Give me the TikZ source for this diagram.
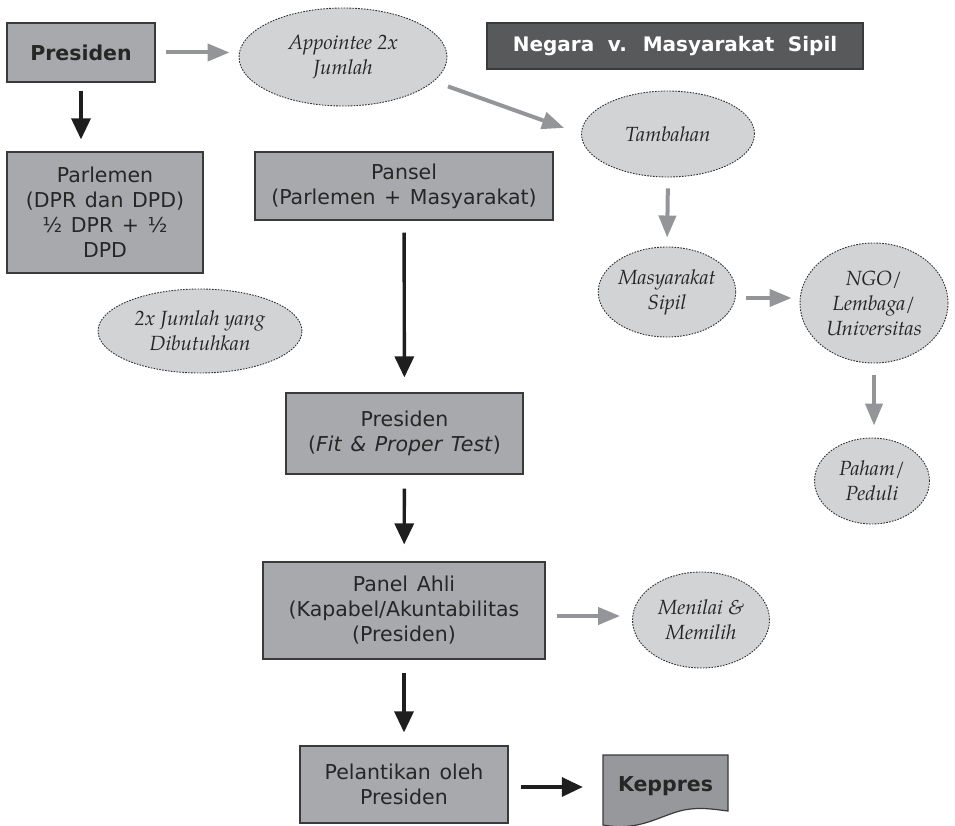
\documentclass[tikz,border=0pt]{standalone}
\usepackage{fontspec}
\setmainfont{DejaVu Sans}
\newfontfamily\bubblefam{TeX Gyre Pagella}
\usetikzlibrary{shapes.geometric,arrows.meta}

\definecolor{boxfill}{HTML}{A7A9AC}
\definecolor{boxline}{HTML}{3A3A3C}
\definecolor{bubblefill}{HTML}{D1D3D4}
\definecolor{bubbleline}{HTML}{2E2E30}
\definecolor{titlefill}{HTML}{58595B}
\definecolor{docfill}{HTML}{96989B}
\definecolor{arrowgray}{HTML}{939598}
\definecolor{arrowblack}{HTML}{1E1E1E}

\newcommand\boxfont{\fontsize{20.5}{25}\selectfont\spaceskip=0.42em plus 0.1em\relax}
\newcommand\titlefont{\fontsize{20}{24}\selectfont\bfseries\spaceskip=0.68em\relax}
\newcommand\bubblefont{\bubblefam\itshape\fontsize{20.5}{25}\selectfont}

\tikzset{
  box/.style={draw=boxline, fill=boxfill, line width=1.2pt, inner sep=0pt,
    align=center, font=\boxfont, text=black!85},
  bubble/.style={ellipse, draw=bubbleline, fill=bubblefill, line width=0.9pt,
    dash pattern=on 1.6pt off 1.3pt, inner sep=0pt, align=center,
    font=\bubblefont, text=black!85},
  blackarrow/.style={draw=arrowblack, line width=3.4pt,
    -{Triangle[length=21pt,width=19pt]}},
  grayarrow/.style={draw=arrowgray, line width=4pt,
    -{Triangle[length=22pt,width=17pt]}},
}

\begin{document}
\begin{tikzpicture}[x=1pt,y=-1pt]
\useasboundingbox (0,0) rectangle (955,826);

% state side: boxes
\node[box, minimum width=148pt, minimum height=59pt] (pres) at (81,52.5)
  {\bfseries Presiden};
\node[box, minimum width=196pt, minimum height=121pt] (parl) at (105,212.5)
  {Parlemen\\(DPR dan DPD)\\½ DPR + ½\\DPD};
\node[box, minimum width=298pt, minimum height=68pt] (pansel) at (404,186)
  {Pansel\\(Parlemen + Masyarakat)};
\node[box, minimum width=237pt, minimum height=81pt] (fit) at (404.5,433.5)
  {Presiden\\(\textit{Fit \& Proper Test})};
\node[box, minimum width=282pt, minimum height=97pt] (panel) at (404,610.5)
  {Panel Ahli\\(Kapabel/Akuntabilitas\\(Presiden)};
\node[box, minimum width=208pt, minimum height=77pt] (lantik) at (404,784.5)
  {Pelantikan oleh\\Presiden};

% heading
\node[draw=boxline, fill=titlefill, line width=1.2pt, minimum width=376pt,
  minimum height=46pt, inner sep=0pt, text=white, font=\titlefont] (title) at (675,46)
  {Negara v. Masyarakat Sipil};

% civil society side: bubbles
\node[bubble, minimum width=208pt, minimum height=98pt] (appt) at (343,57)
  {Appointee 2x\\Jumlah};
\node[bubble, minimum width=173pt, minimum height=86pt] (tamb) at (668,134)
  {Tambahan};
\node[bubble, minimum width=127pt, minimum height=90pt] (masy) at (667,292)
  {Masyarakat\\Sipil};
\node[bubble, minimum width=148pt, minimum height=120pt] (ngo) at (874,303)
  {NGO/\\Lembaga/\\Universitas};
\node[bubble, minimum width=115pt, minimum height=86pt] (paham) at (872,481)
  {Paham/\\Peduli};
\node[bubble, minimum width=204pt, minimum height=84pt] (dua) at (200,331)
  {2x Jumlah yang\\Dibutuhkan};
\node[bubble, minimum width=137pt, minimum height=96pt] (nilai) at (701,620)
  {Menilai \&\\Memilih};

% decree document with wavy lower edge
\draw[draw=boxline, fill=docfill, line width=1.2pt]
  (603,755) -- (728,755) -- (728,811)
  .. controls (712,809) and (700,807) .. (684,810)
  .. controls (660,815) and (640,832) .. (603,825) -- cycle;
\node[minimum width=125pt, minimum height=64pt, inner sep=0pt,
  font=\fontsize{20.5}{25}\selectfont\bfseries, text=black!85] (kep) at (665.5,786)
  {Keppres};

% black flow
\draw[blackarrow, shorten <=8pt, shorten >=12pt] (pres.south) -- (pres.south |- parl.north);
\draw[blackarrow, shorten <=12pt, shorten >=15pt] (pansel) -- (fit);
\draw[blackarrow, shorten <=14pt, shorten >=17pt] (fit) -- (panel);
\draw[blackarrow, shorten <=13pt, shorten >=13pt] (panel) -- (lantik);
\draw[blackarrow, shorten <=12pt, shorten >=20pt]
  ([yshift=-2.5pt]lantik.east) -- ([yshift=-2.5pt]lantik.east -| kep.west);

% gray flow
\draw[grayarrow, shorten <=10pt, shorten >=9pt] (pres.east) -- (pres.east -| appt.west);
\draw[grayarrow, shorten <=15pt, shorten >=18pt] (appt.-15) -- (tamb.west);
\draw[grayarrow, shorten <=11pt, shorten >=9pt] (tamb.south) -- (masy.north);
\draw[grayarrow, shorten <=10pt, shorten >=8pt]
  ([yshift=-6pt]masy.east) -- ([yshift=-6pt]masy.east -| ngo.west);
\draw[grayarrow, shorten <=12pt, shorten >=12pt] (ngo.south) -- (ngo.south |- paham.north);
\draw[grayarrow, shorten <=11pt, shorten >=12pt]
  ([yshift=-5.5pt]panel.east) -- ([yshift=-5.5pt]panel.east -| nilai.west);
\end{tikzpicture}
\end{document}
